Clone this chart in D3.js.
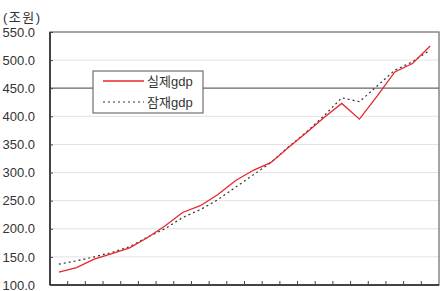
<!DOCTYPE html>
<html>
<head>
<meta charset="utf-8">
<script src="https://d3js.org/d3.v7.min.js"></script>
<style>
	body { margin: 0; background: #fff; }
	text { font-family: "Liberation Sans", "Noto Sans CJK KR", sans-serif; }
</style>
</head>
<body>
<div id="chart"></div>
<script>
// values in 조원, 22 years
var years = d3.range(22);
var realGdp = [123, 131, 146, 156, 166, 184, 205, 229, 241, 261, 286, 304, 318, 345, 371, 398, 423, 395, 436, 479, 494, 525];
var potGdp  = [137, 143, 150, 158, 168, 185, 200, 220, 234, 252, 274, 296, 318, 346, 372, 401, 433, 426, 454, 482, 497, 518];
var yTicks = [100, 150, 200, 250, 300, 350, 400, 450, 500, 550];

var w = 444, h = 291;
var pLeft = 50, pRight = 439, pTop = 32, pBottom = 285;

var svg = d3.select("#chart").append("svg")
	.attr("width", w)
	.attr("height", h);

var x = d3.scaleBand().domain(years).range([pLeft, pRight]);
var y = d3.scaleLinear().domain([100, 550]).range([pBottom, pTop]);

// grid
svg.selectAll(".grid")
	.data(yTicks.filter(function(d) { return d != 100 && d != 550 && d != 450; }))
	.enter().append("line")
	.attr("x1", pLeft).attr("x2", pRight)
	.attr("y1", function(d) { return y(d); })
	.attr("y2", function(d) { return y(d); })
	.attr("stroke", "#e2e2e2")
	.attr("stroke-width", 1);

// 450 line
svg.append("line")
	.attr("x1", pLeft).attr("x2", pRight)
	.attr("y1", y(450)).attr("y2", y(450))
	.attr("stroke", "#666").attr("stroke-width", 1.2);

// border
svg.append("rect")
	.attr("x", pLeft).attr("y", pTop)
	.attr("width", pRight - pLeft).attr("height", pBottom - pTop)
	.attr("fill", "none").attr("stroke", "#6a6a6a").attr("stroke-width", 1.2);
svg.append("line")
	.attr("x1", pLeft).attr("x2", pLeft).attr("y1", pTop).attr("y2", pBottom)
	.attr("stroke", "#222").attr("stroke-width", 1.5);
svg.append("line")
	.attr("x1", pLeft).attr("x2", pRight).attr("y1", pBottom).attr("y2", pBottom)
	.attr("stroke", "#222").attr("stroke-width", 1.5);

// y axis labels + small ticks
var yAxis = d3.axisLeft(y).tickValues(yTicks).tickSize(-3).tickPadding(15)
	.tickFormat(d3.format(".1f"));
var ga = svg.append("g").attr("transform", "translate(" + pLeft + ",0)").call(yAxis);
ga.select(".domain").remove();
ga.selectAll(".tick line").attr("stroke", "#444");
ga.selectAll("text").attr("font-size", 13).attr("fill", "#333");

// x ticks at band boundaries
svg.selectAll(".xt")
	.data(years.slice(1))
	.enter().append("line")
	.attr("x1", function(d) { return x(d); })
	.attr("x2", function(d) { return x(d); })
	.attr("y1", pBottom).attr("y2", pBottom - 4)
	.attr("stroke", "#444");

svg.append("text")
	.attr("x", 3).attr("y", 22)
	.attr("font-size", 13).attr("fill", "#333")
	.attr("letter-spacing", 1.5)
	.text("(조원)");

var line = d3.line()
	.x(function(d, i) { return x(i) + x.bandwidth() / 2; })
	.y(function(d) { return y(d); });

svg.append("path")
	.datum(potGdp)
	.attr("d", line)
	.attr("fill", "none")
	.attr("stroke", "#333")
	.attr("stroke-width", 1.2)
	.attr("stroke-dasharray", "2,3");

svg.append("path")
	.datum(realGdp)
	.attr("d", line)
	.attr("fill", "none")
	.attr("stroke", "#e8262c")
	.attr("stroke-width", 1.3);

// legend
var lg = svg.append("g");
lg.append("rect")
	.attr("x", 93).attr("y", 71).attr("width", 110).attr("height", 42)
	.attr("fill", "#fff").attr("stroke", "#555").attr("stroke-width", 1);
lg.append("line")
	.attr("x1", 103).attr("x2", 144).attr("y1", 81).attr("y2", 81)
	.attr("stroke", "#e8262c").attr("stroke-width", 1.3);
lg.append("line")
	.attr("x1", 103).attr("x2", 144).attr("y1", 102).attr("y2", 102)
	.attr("stroke", "#333").attr("stroke-width", 1.2).attr("stroke-dasharray", "2,3");
lg.append("text").attr("x", 147).attr("y", 86)
	.attr("font-size", 13).attr("fill", "#333").text("실제gdp");
lg.append("text").attr("x", 147).attr("y", 107)
	.attr("font-size", 13).attr("fill", "#333").text("잠재gdp");
</script>
</body>
</html>
